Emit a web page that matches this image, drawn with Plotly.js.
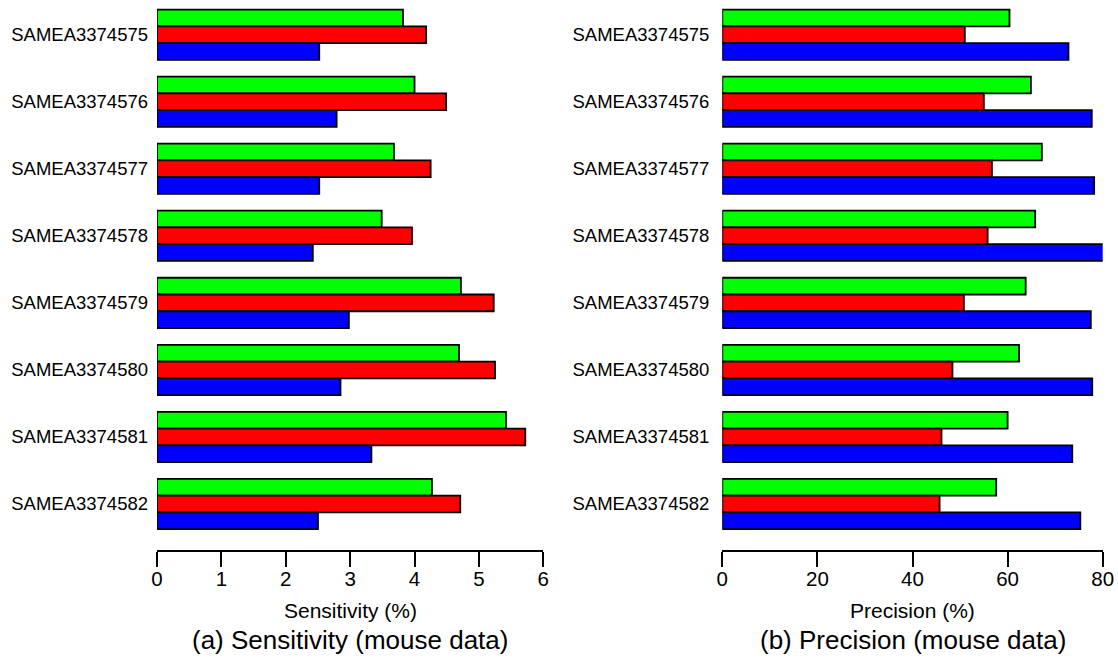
<!DOCTYPE html>
<html>
<head>
<meta charset="utf-8">
<script src="https://cdn.plot.ly/plotly-3.0.1.min.js"></script>
<style>html,body{margin:0;padding:0;background:#fff;}#chart{width:1118px;height:660px;}</style>
</head>
<body>
<div id="chart"></div>
<script>
const samples = ["SAMEA3374575","SAMEA3374576","SAMEA3374577","SAMEA3374578","SAMEA3374579","SAMEA3374580","SAMEA3374581","SAMEA3374582"];
// Sensitivity (%)
const sensGreen = [3.82, 4.00, 3.68, 3.49, 4.72, 4.69, 5.42, 4.27];
const sensRed   = [4.18, 4.49, 4.25, 3.96, 5.23, 5.25, 5.72, 4.71];
const sensBlue  = [2.52, 2.79, 2.52, 2.42, 2.98, 2.85, 3.33, 2.50];
// Precision (%)
const precGreen = [60.4, 64.9, 67.2, 65.8, 63.8, 62.4, 60.0, 57.6];
const precRed   = [51.0, 55.0, 56.7, 55.8, 50.8, 48.4, 46.1, 45.7];
const precBlue  = [72.8, 77.7, 78.2, 80.3, 77.5, 77.8, 73.6, 75.3];
const sensTicks = [0,1,2,3,4,5,6];
const precTicks = [0,20,40,60,80];

const FONT = "Liberation Sans, Arial, Helvetica, sans-serif";
const colors = ["#00ff00", "#ff0000", "#0000ff"];
function bar(x, c, xa, ya) {
  return {type:"bar", orientation:"h", x:x, y:samples, xaxis:xa, yaxis:ya,
    marker:{color:c, line:{color:"#000", width:1.8}}, hoverinfo:"x+y", showlegend:false};
}
const data = [
  bar(sensGreen, colors[0], "x", "y"),
  bar(sensRed, colors[1], "x", "y"),
  bar(sensBlue, colors[2], "x", "y"),
  bar(precGreen, colors[0], "x2", "y2"),
  bar(precRed, colors[1], "x2", "y2"),
  bar(precBlue, colors[2], "x2", "y2")
];
const yRange = [7.686, -0.5175];
function xax(domain, range, ticks) {
  return {domain:domain, range:range, tickvals:ticks, ticktext:ticks.map(String),
    showline:true, linecolor:"#000", linewidth:2, ticks:"outside", ticklen:15, tickwidth:2, tickcolor:"#000",
    ticklabelstandoff:-6,
    showgrid:false, zeroline:false, tickfont:{family:FONT, size:20.5, color:"#000"}, fixedrange:true};
}
function yax(anchor, standoff) {
  return {type:"category", categoryarray:samples, range:yRange, anchor:anchor,
    showline:false, ticks:"", showgrid:false, zeroline:false, ticklabelstandoff:standoff,
    tickfont:{family:FONT, size:18.5, color:"#000"}, fixedrange:true};
}
const layout = {
  width:1118, height:660,
  margin:{l:0, r:0, t:0, b:110},
  paper_bgcolor:"#fff", plot_bgcolor:"#fff",
  barmode:"group", bargap:0.25, bargroupgap:0,
  xaxis: xax([157/1118, 543.3/1118], [0, 6], sensTicks),
  yaxis: yax("x", 8),
  xaxis2: xax([722.3/1118, 1102.7/1118], [0, 80], precTicks),
  yaxis2: yax("x2", 12),
  annotations: [
    {text:"Sensitivity (%)", xref:"paper", yref:"paper", x:(157+543.3)/2/1118, y:(550-610)/550, xanchor:"center", yanchor:"middle", showarrow:false, font:{family:FONT, size:21, color:"#000"}},
    {text:"(a) Sensitivity (mouse data)", xref:"paper", yref:"paper", x:(157+543.3)/2/1118, y:(550-640)/550, xanchor:"center", yanchor:"middle", showarrow:false, font:{family:FONT, size:26, color:"#000"}},
    {text:"Precision (%)", xref:"paper", yref:"paper", x:(722.3+1102.7)/2/1118, y:(550-610)/550, xanchor:"center", yanchor:"middle", showarrow:false, font:{family:FONT, size:21, color:"#000"}},
    {text:"(b) Precision (mouse data)", xref:"paper", yref:"paper", x:(722.3+1102.7)/2/1118, y:(550-640)/550, xanchor:"center", yanchor:"middle", showarrow:false, font:{family:FONT, size:26, color:"#000"}}
  ]
};
Plotly.newPlot("chart", data, layout, {displayModeBar:false, staticPlot:false});
</script>
</body>
</html>
